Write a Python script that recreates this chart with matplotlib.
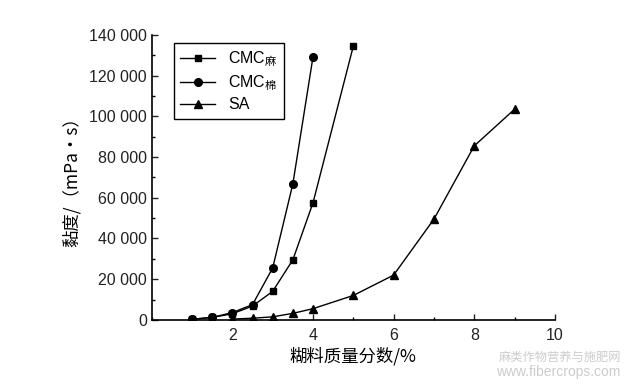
import matplotlib as mpl
import matplotlib.pyplot as plt
import matplotlib.ticker as ticker

mpl.rcParams['font.family'] = ['Liberation Sans', 'Noto Sans CJK SC', 'DejaVu Sans']
mpl.rcParams['mathtext.fontset'] = 'custom'
mpl.rcParams['mathtext.rm'] = 'Noto Sans CJK SC'
mpl.rcParams['xtick.direction'] = 'in'
mpl.rcParams['ytick.direction'] = 'in'

# viscosity vs paste concentration
cmc_ma_x = [1, 1.5, 2, 2.5, 3, 3.5, 4, 5]
cmc_ma_y = [300, 1200, 3000, 6800, 14000, 29500, 57500, 134500]
cmc_mian_x = [1, 1.5, 2, 2.5, 3, 3.5, 4]
cmc_mian_y = [300, 1200, 3600, 7500, 25500, 66800, 129200]
sa_x = [2, 2.5, 3, 3.5, 4, 5, 6, 7, 8, 9]
sa_y = [400, 800, 1500, 3200, 5500, 12000, 22000, 49500, 85500, 103500]
labels = ['CMC$_\\mathrm{麻}$', 'CMC$_\\mathrm{棉}$', 'SA']

fig = plt.figure(figsize=(6.27, 3.84), dpi=100)
ax = fig.add_axes([0.242, 0.167, 0.643, 0.742])

ax.plot(cmc_ma_x, cmc_ma_y, color='k', lw=1.0, marker='s', ms=5, label=labels[0])
ax.plot(cmc_mian_x, cmc_mian_y, color='k', lw=1.0, marker='o', ms=5.5, label=labels[1])
ax.plot(sa_x, sa_y, color='k', lw=1.0, marker='^', ms=5.5, label=labels[2])

ax.set_xlim(0, 10)
ax.set_ylim(0, 140000)
ax.set_xticks([2, 4, 6, 8, 10])
ax.xaxis.set_minor_locator(ticker.MultipleLocator(1))
ax.yaxis.set_major_locator(ticker.MultipleLocator(20000))
ax.yaxis.set_minor_locator(ticker.MultipleLocator(10000))

def y_fmt(v, pos):
    if v == 0:
        return '0'
    return '{:,.0f}'.format(v).replace(',', ' ')
ax.yaxis.set_major_formatter(ticker.FuncFormatter(y_fmt))

for s in ['top', 'right']:
    ax.spines[s].set_visible(False)
for s in ['left', 'bottom']:
    ax.spines[s].set_linewidth(1.2)
ax.tick_params(which='major', length=4, width=1, labelsize=11.5, colors='#222222')
ax.tick_params(which='minor', length=2.5, width=1)
ax.tick_params(axis='x', pad=6)

ax.set_xlabel('糊料质量分数/%', fontsize=12.5, family=['Noto Sans CJK SC'], labelpad=3)
ax.set_ylabel('黏度/（mPa·s）', fontsize=12.5, family=['Noto Sans CJK SC'], labelpad=6)

leg = ax.legend(loc='upper left', bbox_to_anchor=(0.035, 1.0), fancybox=False,
                edgecolor='k', framealpha=1, fontsize=11.5, handlelength=2.2,
                labelspacing=0.25, borderpad=0.4)
leg.get_frame().set_linewidth(1.0)

fig.text(0.99, 0.06, '麻类作物营养与施肥网', ha='right', fontsize=8.8,
         color='#cccccc', family=['Noto Sans CJK SC'])
fig.text(0.99, 0.022, 'www.fibercrops.com', ha='right', fontsize=10,
         color='#cccccc')

fig.savefig('out.png', dpi=100)
